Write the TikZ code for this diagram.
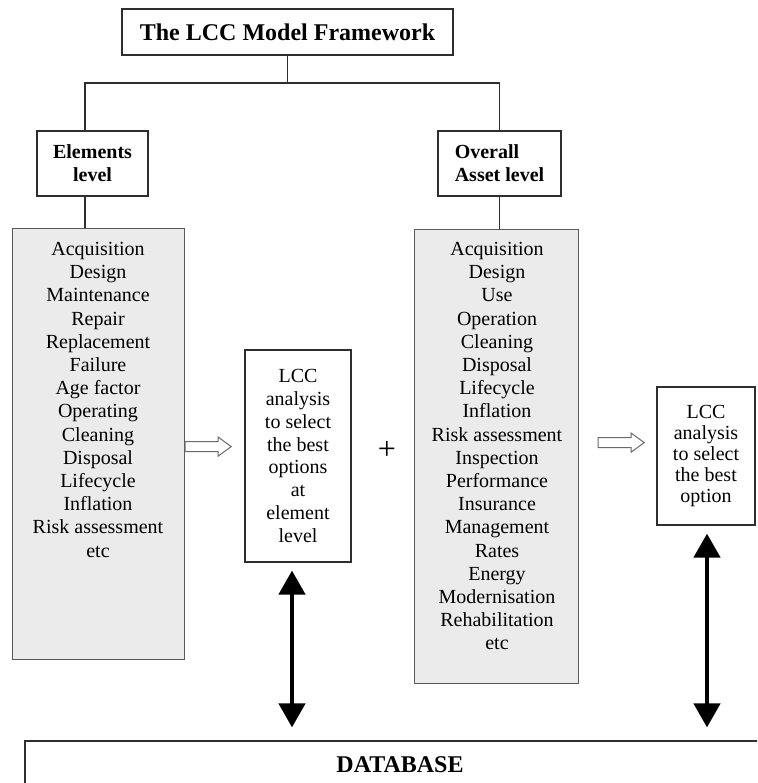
\documentclass[tikz,border=0pt]{standalone}
\usepackage{fontspec}
\setmainfont{Liberation Serif}
\usetikzlibrary{arrows.meta,calc}
\definecolor{linec}{HTML}{2E2E2E}
\definecolor{listfill}{HTML}{EBEBEB}
\definecolor{listline}{HTML}{5A5A5A}
\definecolor{hollowline}{HTML}{6A6A6A}

\begin{document}
\begin{tikzpicture}[x=1pt,y=-1pt,
  frame/.style={draw=linec, line width=1.2pt, inner sep=0pt, align=center},
  listbox/.style={draw=listline, fill=listfill, line width=1.2pt, inner sep=0pt},
  listtext/.style={inner sep=0pt, align=center, font=\fontsize{20}{23.2}\selectfont},
  lccfont/.style={font=\fontsize{20}{#1}\selectfont},
  headfont/.style={font=\bfseries\fontsize{24}{28}\selectfont},
  levelfont/.style={font=\bfseries\fontsize{20}{23}\selectfont},
  conn/.style={draw=linec, line width=1.2pt},
  hollow/.style={draw=hollowline, fill=white, line width=1pt, line join=miter},
  dbl/.style={line width=4.5pt, {Triangle[width=26pt,length=24pt]}-{Triangle[width=26pt,length=24pt]}},
]
\useasboundingbox (0,0) rectangle (757,783);
\fill[white] (0,0) rectangle (757,783);
\clip (0,0) rectangle (757,783);

% top of the hierarchy
\node[frame, headfont, minimum width=331, minimum height=46] (title) at (287.5,32) {The LCC Model Framework};
\node[frame, levelfont, minimum width=111, minimum height=65] (elev) at (92.5,163.5) {Elements\\level};
\node[frame, levelfont, align=left, minimum width=123, minimum height=65] (alev) at (499.5,163.5) {Overall\\Asset level};
\coordinate (split) at (287.5,83);

% cost item lists
\node[listbox, minimum width=172, minimum height=431, anchor=north west] (elist) at (12,228) {};
\node[listbox, minimum width=164, minimum height=454, anchor=north west] (alist) at (414,229) {};
\node[listtext, anchor=north] (etext) at (98,242) {Acquisition\\Design\\Maintenance\\Repair\\Replacement\\Failure\\Age factor\\Operating\\Cleaning\\Disposal\\Lifecycle\\Inflation\\Risk assessment\\etc};
\node[listtext, anchor=north] (atext) at (497,242) {Acquisition\\Design\\Use\\Operation\\Cleaning\\Disposal\\Lifecycle\\Inflation\\Risk assessment\\Inspection\\Performance\\Insurance\\Management\\Rates\\Energy\\Modernisation\\Rehabilitation\\etc};

% analysis boxes
\node[frame, lccfont=22.8, minimum width=106, minimum height=212] (lcc1) at (298,456) {LCC\\analysis\\to select\\the best\\options\\at\\element\\level};
\node[frame, lccfont=20.8, minimum width=98, minimum height=138] (lcc2) at (706,456) {LCC\\analysis\\to select\\the best\\option};
\node[font=\fontsize{32}{32}\selectfont, inner sep=0pt] (plus) at (387,450) {+};

% database
\node[frame, headfont, minimum width=750, minimum height=48] (db) at (400,765) {DATABASE};

% tree connectors
\draw[conn] (title.south) -- (split);
\draw[conn] ([xshift=-7.5pt]elev.north) |- (split) -| (alev.north);
\draw[conn] ([xshift=-7.5pt]elev.south) -- ([xshift=-7.5pt]elev.south |- elist.north);
\draw[conn] (alev.south) -- (alev.south |- alist.north);

% hollow arrows towards the analysis boxes
\coordinate (h1) at ($(elist.east)+(0,2.5)$);
\coordinate (h2) at ($(alist.east)+(19,-14)$);
\foreach \c in {h1,h2}
  \draw[hollow] (\c) ++(0,-5) -- ++(33,0) -- ++(0,-4.5) -- ++(13,9.5) -- ++(-13,9.5) -- ++(0,-4.5) -- ++(-33,0) -- cycle;

% two-way links with the database
\draw[dbl] ($(lcc1.south)+(-6,8)$) -- ($(lcc1.south |- db.north)+(-6,-13)$);
\draw[dbl] ($(lcc2.south)+(1,8)$) -- ($(lcc2.south |- db.north)+(1,-13)$);
\end{tikzpicture}
\end{document}
